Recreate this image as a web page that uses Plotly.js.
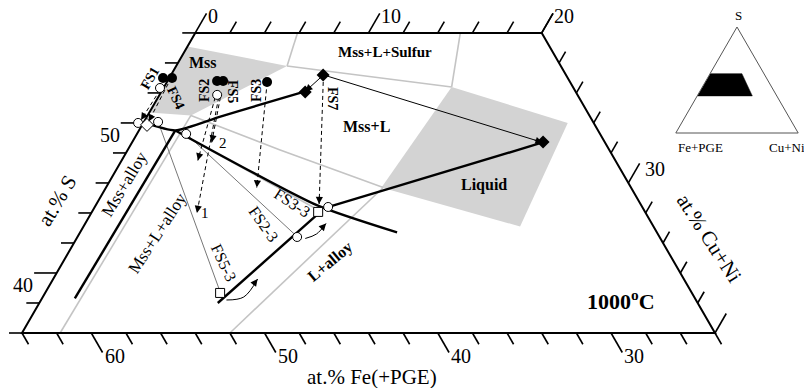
<!DOCTYPE html>
<html><head><meta charset="utf-8">
<script src="https://cdn.plot.ly/plotly-3.0.1.min.js"></script>
<style>html,body{margin:0;padding:0;background:#fff}#chart{width:804px;height:388px}</style>
</head><body><div id="chart"></div>
<script>
// ---------- DATA: compositions in at.% S and at.% Cu+Ni (Fe(+PGE) = 100 - S - CuNi) ----------
const sTicks = [36,38,40,42,44,46,48,50,52,54,56];
const sLabels = [40,50];
const cuTopTicks = [0,2,4,6,8,10,12,14,16,18,20];
const cuTopLabels = [0,10,20];
const feTicks = [24,26,28,30,32,34,36,38,40,42,44,46,48,50,52,54,56,58,60,62,64];
const feLabels = [30,40,50,60];
const cuRightTicks = [20,22,24,26,28,30,32,34,36,38,40];
const cuRightLabels = [30];
const frameS = [56,56,36,36,56];
const frameCu = [0,20,40,0,0];

// shaded phase fields
const mssFieldS = [55.1,53.8,50.5,50.7];
const mssFieldCu = [0,6.4,2.5,0];
const liquidFieldS = [52.4,50.0,43.1,45.7];
const liquidFieldCu = [16.6,24.5,25.2,15.9];

// grey phase boundaries
const bnd1S = [36,50.5], bnd1Cu = [2.2,2.5];
const bnd2S = [53.8,52.4], bnd2Cu = [6.4,16.6];
const bnd3S = [53.8,56], bnd3Cu = [6.4,5.9];
const bnd4S = [52.4,56], bnd4Cu = [16.6,15.3];
const bnd5S = [50.5,48.2,45.7], bnd5Cu = [2.5,8.8,16.0];
const bnd6S = [36,45.7], bnd6Cu = [12.0,16.0];
const fs33GreyS = [49.1,44.3], fs33GreyCu = [2.9,12.8];

// thick black lines
const lineAS = [38.3,49.5], lineACu = [1.9,2.1];
const lineBS = [50.0,49.5,50.4,51.2,52.1], lineBCu = [0.1,2.1,4.2,6.1,8.3];
const lineCS = [49.5,44.5,42.7], lineCCu = [2.1,12.8,18.3];
const lineDS = [44.4,48.7], lineDCu = [13.5,23.7];
const lineES = [38.0,44.1], lineECu = [10.3,13.2];

// thin tie lines
const tieFS53S = [50.1,38.7], tieFS53Cu = [0.8,10.1];
const tieFS23S = [49.3,42.4], tieFS23Cu = [2.8,12.7];

// thin solid arrows
const arrFS7LiqS = [53.2,48.7], arrFS7LiqCu = [8.8,23.7];
const arrFS7MssS = [53.2,52.1], arrFS7MssCu = [8.8,8.3];
const curveFS53S = [38.2,38.4,39.6], curveFS53Cu = [10.7,11.6,11.8];
const curveFS23S = [42.3,42.6,43.3], curveFS23Cu = [13.2,13.7,13.9];

// dashed arrows [tail S, tail CuNi, head S, head CuNi]
const dashFS1 = [52.2,-0.13,50.2,-0.23];
const dashFS4 = [52.6,0.13,50.1,0.26];
const dashFS2a = [51.7,3.3,47.5,4.4];
const dashFS2b = [51.7,3.5,44.0,6.1];
const dashFS5 = [51.7,3.6,48.7,4.6];
const dashFS3 = [52.7,5.8,45.7,8.7];
const dashFS7 = [53.2,8.8,44.6,12.85];

// markers
const filledCircS = [53.0,53.0,52.8,52.8,52.73], filledCircCu = [-0.36,0.16,2.86,3.21,5.78];
const filledDiaS = [53.2,52.07,48.73], filledDiaCu = [8.78,8.31,23.71];
const openCircS = [50.0,50.07,52.33,49.27,51.87,42.4,44.4], openCircCu = [-0.3,0.82,-0.2,2.84,3.33,12.68,13.47];
const openDiaS = [49.87], openDiaCu = [0.28];
const openSqS = [38.67,44.07], openSqCu = [10.1,13.06];

// inset triangle (S, Fe+PGE, Cu+Ni)
const insetS = [56,56,35,35], insetCu = [0,26,45,0];

// ---------- projection of compositions onto the page axes ----------
const PXU = 693/40, PYU = PXU*Math.sqrt(3)/2;
const X = (s,c) => c + s/2;
const base = {type:'scatter', hoverinfo:'skip', showlegend:false, xaxis:'x', yaxis:'y'};
function ln(S, C, line, extra) {
  return Object.assign({}, base, {mode:'lines', x:S.map((s,i)=>X(s,C[i])), y:S.slice(), line:line}, extra||{});
}
function mk(S, C, marker) {
  return Object.assign({}, base, {mode:'markers', x:S.map((s,i)=>X(s,C[i])), y:S.slice(), marker:marker});
}
const GREY = '#c4c4c4', FILL = '#d3d3d3';
const traces = [];
traces.push(ln(mssFieldS.concat([mssFieldS[0]]), mssFieldCu.concat([mssFieldCu[0]]), {width:0,color:FILL}, {fill:'toself', fillcolor:FILL}));
traces.push(ln(liquidFieldS.concat([liquidFieldS[0]]), liquidFieldCu.concat([liquidFieldCu[0]]), {width:0,color:FILL}, {fill:'toself', fillcolor:FILL}));
[[bnd1S,bnd1Cu],[bnd2S,bnd2Cu],[bnd3S,bnd3Cu],[bnd4S,bnd4Cu],[bnd5S,bnd5Cu],[bnd6S,bnd6Cu],[fs33GreyS,fs33GreyCu]].forEach(b=>traces.push(ln(b[0],b[1],{color:GREY,width:1.6})));
// ticks
function tickTrace(ticks, fn) {
  const xs=[], ys=[];
  ticks.forEach(t=>{ const L = (t%10===0)?1.3:0.75; const p = fn(t,L); xs.push(X(p[0],p[1]),X(p[2],p[3]),null); ys.push(p[0],p[2],null); });
  return Object.assign({}, base, {mode:'lines', x:xs, y:ys, line:{color:'#000',width:1.6}});
}
traces.push(tickTrace(sTicks, (s,L)=>[s,0,s,-L]));
traces.push(tickTrace(cuTopTicks, (c,L)=>[56,c,56+L,c]));
traces.push(tickTrace(feTicks, (f,L)=>{const c=100-36-f; return [36,c,36-L,c+L];}));
traces.push(tickTrace(cuRightTicks, (c,L)=>{const s=100-24-c; return [s,c,s+L,c];}));
traces.push(ln(frameS, frameCu, {color:'#000',width:2}));
// tie lines & thin arrows
[[tieFS53S,tieFS53Cu],[tieFS23S,tieFS23Cu]].forEach(b=>traces.push(ln(b[0],b[1],{color:'#777',width:1})));
[[arrFS7LiqS,arrFS7LiqCu],[arrFS7MssS,arrFS7MssCu],[curveFS53S,curveFS53Cu],[curveFS23S,curveFS23Cu]].forEach(b=>traces.push(ln(b[0],b[1],{color:'#000',width:1,shape:'spline'})));
// thick lines
[[lineAS,lineACu],[lineBS,lineBCu],[lineCS,lineCCu],[lineDS,lineDCu],[lineES,lineECu]].forEach(b=>traces.push(ln(b[0],b[1],{color:'#000',width:2.4,shape:'spline',smoothing:0.6})));
// dashed
const dashes = [dashFS1,dashFS4,dashFS2a,dashFS2b,dashFS5,dashFS3,dashFS7];
dashes.forEach(d=>traces.push(ln([d[0],d[2]],[d[1],d[3]],{color:'#000',width:1,dash:'4px,3px'})));
// markers
traces.push(mk(openCircS, openCircCu, {symbol:'circle', size:9, color:'#fff', line:{color:'#000',width:1}}));
traces.push(mk(openDiaS, openDiaCu, {symbol:'diamond', size:10, color:'#fff', line:{color:'#000',width:1}}));
traces.push(mk(openSqS, openSqCu, {symbol:'square', size:9, color:'#fff', line:{color:'#000',width:1}}));
traces.push(mk(filledCircS, filledCircCu, {symbol:'circle', size:10, color:'#000'}));
traces.push(mk(filledDiaS, filledDiaCu, {symbol:'diamond', size:10, color:'#000'}));
// inset
traces.push({type:'scatterternary', subplot:'ternary', mode:'lines', a:insetS, c:insetCu, b:insetS.map((s,i)=>100-s-insetCu[i]), fill:'toself', fillcolor:'#000', line:{color:'#000',width:0.5}, hoverinfo:'skip', showlegend:false});

// ---------- annotations ----------
const SERIF = 'Liberation Serif, Times New Roman, serif';
const anns = [];
function arrowAnn(S1,C1,S2,C2,len){
  const dx=(X(S2,C2)-X(S1,C1))*PXU, dy=-(S2-S1)*PYU, L=Math.hypot(dx,dy);
  return {x:X(S2,C2), y:S2, xref:'x', yref:'y', ax:-dx/L*len, ay:-dy/L*len, text:'', showarrow:true, arrowhead:2, arrowsize:1.3, arrowwidth:1.1, arrowcolor:'#000'};
}
dashes.forEach(d=>anns.push(arrowAnn(d[0],d[1],d[2],d[3],9)));
anns.push(arrowAnn(arrFS7LiqS[0],arrFS7LiqCu[0],arrFS7LiqS[1],arrFS7LiqCu[1],10));
anns.push(arrowAnn(arrFS7MssS[0],arrFS7MssCu[0],arrFS7MssS[1],arrFS7MssCu[1],8));
anns.push(arrowAnn(curveFS53S[1],curveFS53Cu[1],curveFS53S[2],curveFS53Cu[2],9));
anns.push(arrowAnn(curveFS23S[1],curveFS23Cu[1],curveFS23S[2],curveFS23Cu[2],9));
// tick labels
const TF = {family:SERIF, size:20, color:'#000'};
cuTopLabels.forEach(c=>anns.push({x:X(57.3,c), y:57.3, xref:'x', yref:'y', text:String(c), showarrow:false, xanchor:'left', yanchor:'middle', xshift:-1, yshift:-3, font:TF}));
sLabels.forEach(s=>anns.push({x:X(s,-1.3), y:s, xref:'x', yref:'y', text:String(s), showarrow:false, xanchor:'right', yanchor:'middle', xshift:1, yshift:-12, font:TF}));
feLabels.forEach(f=>{const c=100-36-f; anns.push({x:X(34.7,c+1.3), y:34.7, xref:'x', yref:'y', text:String(f), showarrow:false, xanchor:'left', yanchor:'middle', xshift:0, yshift:-3, font:TF});});
cuRightLabels.forEach(c=>{const s=100-24-c; anns.push({x:X(s+1.3,c), y:s+1.3, xref:'x', yref:'y', text:String(c), showarrow:false, xanchor:'left', yanchor:'middle', xshift:3, yshift:-6, font:TF});});
// text labels at page positions
function lab(text, px, py, angle, bold, size){
  anns.push({x:px/804, y:1-py/388, xref:'paper', yref:'paper', text: bold?'<b>'+text+'</b>':text, showarrow:false, textangle:angle, xanchor:'center', yanchor:'middle', font:{family:SERIF, size:size, color:'#000'}});
}
lab('at.% S',57,201,-59,false,21);
lab('at.% Fe(+PGE)',372,377,0,false,21);
lab('at.% Cu+Ni',709,238,57,false,21);
lab('1000<sup>o</sup>C',621,300,0,true,22);
lab('Mss',203,63,0,true,16);
lab('Mss+L+Sulfur',385,52,0,true,15);
lab('Mss+L',366,127,0,true,16);
lab('Liquid',484,185,0,true,16);
lab('Mss+alloy',124,184,-59,false,17);
lab('Mss+L+alloy',157,233,-57,false,17);
lab('L+alloy',330,262,-40,true,16);
lab('FS5-3',224,262,65,false,16);
lab('FS2-3',263,224,55,false,16);
lab('FS3-3',292,202,33,false,16);
lab('FS1',150,79,-60,true,14);
lab('FS4',176,97,65,true,14);
lab('FS2',204,91,-90,true,14);
lab('FS5',233,91,90,true,14);
lab('FS3',256,91,-90,true,14);
lab('FS7',333,98,90,true,14);
lab('1',205,213,0,false,15);
lab('2',223,143,0,false,15);
// inset corner labels
lab('S',738,16,0,false,13);
lab('Fe+PGE',700,147,0,false,13);
lab('Cu+Ni',787,147,0,false,13);

const AX = {showticklabels:false, ticks:'', showgrid:false, linecolor:'#555', linewidth:1, title:{text:''}};
const layout = {
  width:804, height:388, margin:{l:0,r:0,t:0,b:0}, paper_bgcolor:'#fff', plot_bgcolor:'rgba(0,0,0,0)',
  showlegend:false, dragmode:false,
  xaxis:{range:[18-22/PXU, 18+782/PXU], visible:false, fixedrange:true, domain:[0,1]},
  yaxis:{range:[36-55/PYU, 36+333/PYU], visible:false, fixedrange:true, domain:[0,1]},
  ternary:{domain:{x:[675/804,799/804], y:[1-133/388,1-27/388]}, sum:100, bgcolor:'rgba(0,0,0,0)',
    aaxis:AX, baxis:AX, caxis:AX},
  annotations:anns
};
Plotly.newPlot('chart', traces, layout, {staticPlot:true, displayModeBar:false});
</script></body></html>
